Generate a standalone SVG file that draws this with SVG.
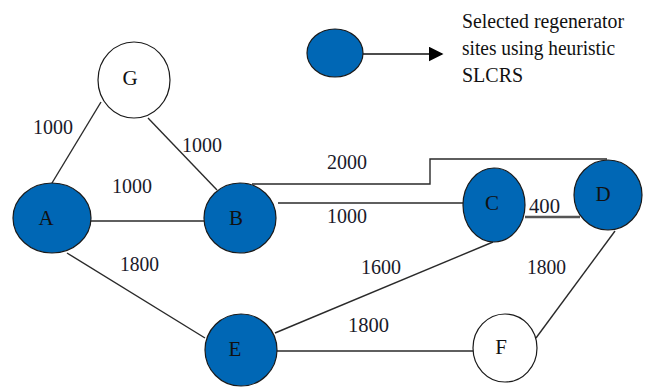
<svg xmlns="http://www.w3.org/2000/svg" width="645" height="392" viewBox="0 0 645 392">
  <style>
    .sel { fill: #0067b5; stroke: #1a1a1a; stroke-width: 1.2; }
    .plain { fill: #ffffff; stroke: #1a1a1a; stroke-width: 1.2; }
    .edge { fill: none; stroke: #2a2a2a; stroke-width: 1.4; }
    .name { font-family: "Liberation Serif", "Times New Roman", serif; font-size: 21px; fill: #111; text-anchor: middle; }
    .w { font-family: "Liberation Serif", "Times New Roman", serif; font-size: 21px; fill: #1a1a2a; }
    .note { font-family: "Liberation Serif", "Times New Roman", serif; font-size: 20px; fill: #111; }
  </style>
  <defs>
    <marker id="arrow" viewBox="0 0 10 10" refX="9" refY="5" markerWidth="15" markerHeight="15" markerUnits="userSpaceOnUse" orient="auto">
      <path d="M0,0 L10,5 L0,10 Z" fill="#000"/>
    </marker>
  </defs>
  <rect width="645" height="392" fill="#ffffff"/>

  <!-- links between sites -->
  <g id="connectors">
    <line class="edge" x1="101" y1="102" x2="52" y2="183"/>
    <line class="edge" x1="148" y1="118" x2="217" y2="190"/>
    <line class="edge" x1="91" y1="221" x2="204" y2="221"/>
    <polyline class="edge" points="252,184 430,184 430,159 607,159"/>
    <line class="edge" x1="278" y1="203" x2="463" y2="203"/>
    <line x1="525" y1="217" x2="580" y2="217" stroke="#555" stroke-width="2.4"/>
    <line class="edge" x1="67" y1="253" x2="205" y2="338"/>
    <line class="edge" x1="275" y1="333" x2="493" y2="242"/>
    <line class="edge" x1="277" y1="351" x2="473" y2="351"/>
    <line class="edge" x1="536" y1="338" x2="615" y2="231"/>
    <line x1="363" y1="54" x2="442" y2="54" stroke="#111" stroke-width="1.6" marker-end="url(#arrow)"/>
  </g>

  <!-- link weights -->
  <g id="weights">
    <text class="w" x="33" y="134" textLength="40" lengthAdjust="spacingAndGlyphs">1000</text>
    <text class="w" x="182" y="152" textLength="40" lengthAdjust="spacingAndGlyphs">1000</text>
    <text class="w" x="112" y="193" textLength="40" lengthAdjust="spacingAndGlyphs">1000</text>
    <text class="w" x="327" y="169" textLength="40" lengthAdjust="spacingAndGlyphs">2000</text>
    <text class="w" x="327" y="223" textLength="40" lengthAdjust="spacingAndGlyphs">1000</text>
    <text class="w" x="529" y="213" textLength="31" lengthAdjust="spacingAndGlyphs">400</text>
    <text class="w" x="120" y="271" textLength="39" lengthAdjust="spacingAndGlyphs">1800</text>
    <text class="w" x="361" y="274" textLength="40" lengthAdjust="spacingAndGlyphs">1600</text>
    <text class="w" x="527" y="274" textLength="39" lengthAdjust="spacingAndGlyphs">1800</text>
    <text class="w" x="348" y="332" textLength="41" lengthAdjust="spacingAndGlyphs">1800</text>
  </g>

  <g id="node-G">
    <ellipse class="plain" cx="134" cy="80" rx="36" ry="38"/>
    <text class="name" x="130" y="85">G</text>
  </g>
  <g id="node-A">
    <ellipse class="sel" cx="52" cy="218" rx="39" ry="35"/>
    <text class="name" x="46" y="225">A</text>
  </g>
  <g id="node-B">
    <ellipse class="sel" cx="240" cy="218" rx="36" ry="35"/>
    <text class="name" x="236" y="225">B</text>
  </g>
  <g id="node-C">
    <ellipse class="sel" cx="494" cy="205" rx="31" ry="37"/>
    <text class="name" x="492" y="210">C</text>
  </g>
  <g id="node-D">
    <ellipse class="sel" cx="608" cy="195" rx="34" ry="35"/>
    <text class="name" x="603" y="201">D</text>
  </g>
  <g id="node-E">
    <ellipse class="sel" cx="241" cy="350" rx="36" ry="36"/>
    <text class="name" x="235" y="356">E</text>
  </g>
  <g id="node-F">
    <ellipse class="plain" cx="505" cy="348" rx="32" ry="34"/>
    <text class="name" x="501" y="354">F</text>
  </g>

  <!-- key -->
  <g id="legend">
    <ellipse class="sel" cx="335" cy="53" rx="28" ry="24"/>
    <text class="note" x="462" y="28" textLength="162" lengthAdjust="spacingAndGlyphs">Selected regenerator</text>
    <text class="note" x="462" y="55" textLength="153" lengthAdjust="spacingAndGlyphs">sites using heuristic</text>
    <text class="note" x="462" y="82">SLCRS</text>
  </g>
</svg>
